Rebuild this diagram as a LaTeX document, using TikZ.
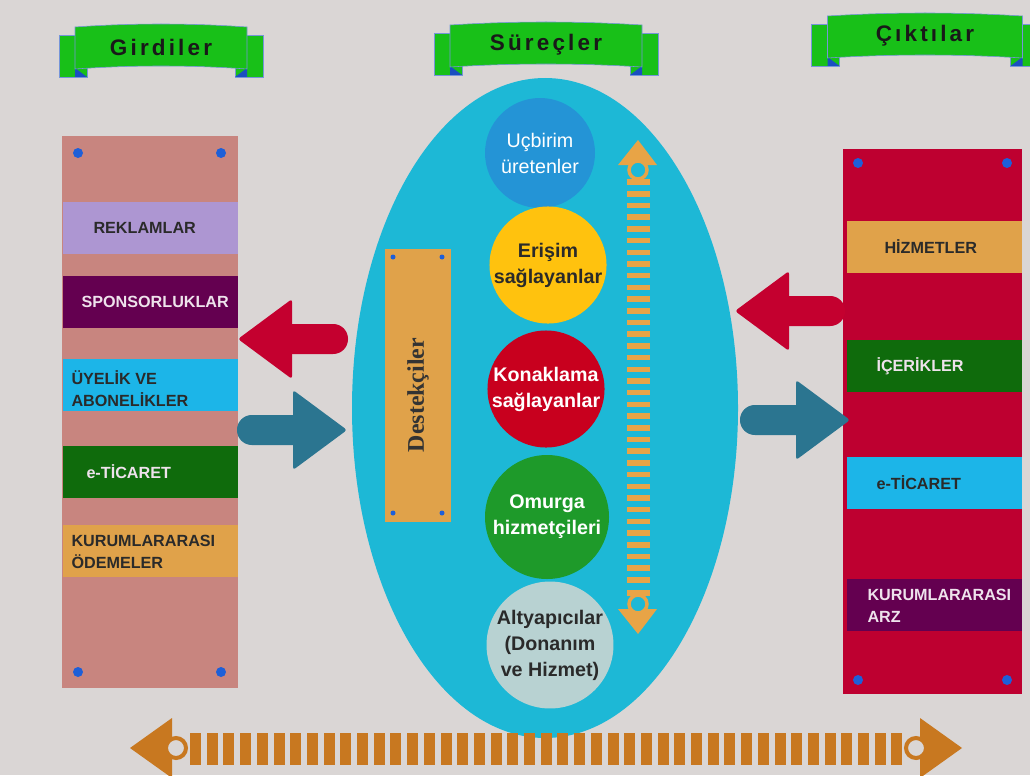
\documentclass[tikz,border=0pt]{standalone}
\usepackage{fontspec}
\setmainfont{Liberation Sans}
\newfontfamily\slabfont{Liberation Serif}
\newfontfamily\bannerfont[LetterSpace=14]{Liberation Sans}
\usetikzlibrary{shapes.geometric}

\definecolor{zemin}{HTML}{DAD6D5}
\definecolor{pembe}{HTML}{C8857F}
\definecolor{kirmizi}{HTML}{BE0030}
\definecolor{lila}{HTML}{AD96D2}
\definecolor{mor}{HTML}{640050}
\definecolor{turkuaz}{HTML}{1CB5E8}
\definecolor{koyuyesil}{HTML}{0F6B0C}
\definecolor{turuncu}{HTML}{E0A24A}
\definecolor{elips}{HTML}{1DB8D6}
\definecolor{bayrak}{HTML}{18C018}
\definecolor{kivrim}{HTML}{1A4FC0}
\definecolor{pim}{HTML}{1E5FD8}
\definecolor{petrol}{HTML}{2B7590}
\definecolor{okkirmizi}{HTML}{C4002F}
\definecolor{seritdikey}{HTML}{E8A446}
\definecolor{seritalt}{HTML}{C87820}
\definecolor{yazikoyu}{HTML}{2A2A2A}
\definecolor{yaziacik}{HTML}{EEE2EC}
\definecolor{mavidaire}{HTML}{2494D6}
\definecolor{sari}{HTML}{FFC20E}
\definecolor{kirmizidaire}{HTML}{C8001E}
\definecolor{yesildaire}{HTML}{1E9A2A}
\definecolor{gridaire}{HTML}{B8D2D2}

\def\pxu{0.025cm}

\tikzset{
  pics/banner/.style 2 args={code={
    % kuyruklar
    \filldraw[bayrak, draw=kivrim!60] (-#1/2-16,-13) rectangle (-#1/2+12,29);
    \filldraw[bayrak, draw=kivrim!60] (#1/2-12,-13) rectangle (#1/2+16,29);
    \fill[kivrim] (-#1/2,20) -- (-#1/2+12,29) -- (-#1/2,29) -- cycle;
    \fill[kivrim] (#1/2,20) -- (#1/2-12,29) -- (#1/2,29) -- cycle;
    % ana serit
    \filldraw[bayrak, draw=kivrim!60] (-#1/2,-21) .. controls (-#1/6,-25) and (#1/6,-25) .. (#1/2,-21)
      -- (#1/2,21) .. controls (#1/6,17) and (-#1/6,17) .. (-#1/2,21) -- cycle;
    \node[font=\bannerfont\bfseries\fontsize{16}{18}\selectfont, text=black!90] (-yazi) at (0,-1) {#2};
  }},
  pics/kalinok/.style={code={
    \fill[rounded corners=0.37cm] (0,-15) rectangle (75,15);
    \fill[rounded corners=2pt] (56,-40) -- (110,0) -- (56,40) -- cycle;
  }}
}

\begin{document}
\begin{tikzpicture}[
x=\pxu, y=-\pxu,
every node/.style = {inner sep=0pt},
kutu/.style = {minimum width=175*\pxu, minimum height=52*\pxu},
kutuyazi/.style = {anchor=west, align=left, font=\bfseries\fontsize{11.5}{15.6}\selectfont},
daire/.style = {circle, align=center, font=\bfseries\fontsize{14}{18.5}\selectfont}
]
\clip (0,0) rectangle (1030,775);
\fill[zemin] (0,0) rectangle (1030,775);

% basliklar
\pic (girdiBayrak) at (161,48) {banner={172}{Girdiler}};
\pic (surecBayrak) at (546,46) {banner={192}{Süreçler}};
\pic (ciktiBayrak) at (925,37) {banner={195}{Çıktılar}};

% girdiler
\node[fill=pembe, minimum width=176*\pxu, minimum height=552*\pxu] (girdi) at (150,412) {};
\node[kutu, fill=lila] (reklamKutu) at (150,228) {};
\node[kutuyazi, text=yazikoyu] (reklam) at ([xshift=31*\pxu]reklamKutu.west) {REKLAMLAR};
\node[kutu, fill=mor] (sponsorKutu) at (150,302) {};
\node[kutuyazi, text=yaziacik] (sponsor) at ([xshift=19*\pxu]sponsorKutu.west) {SPONSORLUKLAR};
\node[kutu, fill=turkuaz] (uyelikKutu) at (150,385) {};
\node[kutuyazi, text=yazikoyu] (uyelik) at ([xshift=9*\pxu, yshift=-4*\pxu]uyelikKutu.west) {ÜYELİK VE\\ABONELİKLER};
\node[kutu, fill=koyuyesil] (ticaretKutu) at (150,472) {};
\node[kutuyazi, text=yaziacik] (ticaret) at ([xshift=24*\pxu]ticaretKutu.west) {e-TİCARET};
\node[kutu, fill=turuncu] (odemeKutu) at (150,551) {};
\node[kutuyazi, text=yazikoyu] (odeme) at ([xshift=9*\pxu, yshift=-1*\pxu]odemeKutu.west) {KURUMLARARASI\\ÖDEMELER};

% ciktilar
\node[fill=kirmizi, minimum width=179*\pxu, minimum height=545*\pxu] (cikti) at (932.5,421) {};
\node[kutu, fill=turuncu] (hizmetKutu) at (934,247) {};
\node[kutuyazi, text=yazikoyu] (hizmet) at ([xshift=38*\pxu]hizmetKutu.west) {HİZMETLER};
\node[kutu, fill=koyuyesil] (icerikKutu) at (934,366) {};
\node[kutuyazi, text=yaziacik] (icerik) at ([xshift=30*\pxu]icerikKutu.west) {İÇERİKLER};
\node[kutu, fill=turkuaz] (eticaretKutu) at (934,483) {};
\node[kutuyazi, text=yazikoyu] (eticaret) at ([xshift=30*\pxu]eticaretKutu.west) {e-TİCARET};
\node[kutu, fill=mor] (arzKutu) at (934,605) {};
\node[kutuyazi, text=yaziacik] (arz) at ([xshift=21*\pxu, yshift=-1*\pxu]arzKutu.west) {KURUMLARARASI\\ARZ};

% pimler
\foreach \p in {(78,153),(221,153),(78,672),(221,672),(858,163),(1007,163),(858,680),(1007,680)}
  \fill[pim] \p circle (5);

% surecler
\node[ellipse, fill=elips, minimum width=386*\pxu, minimum height=660*\pxu] (surec) at (545,408) {};
\node[daire, fill=mavidaire, text=white, minimum size=110*\pxu, font=\fontsize{14}{18.5}\selectfont] (ucbirim) at (540,153) {Uçbirim\\üretenler};
\node[daire, fill=sari, text=yazikoyu, minimum size=110*\pxu] (erisim) at (548,265) {Erişim\\sağlayanlar};
\node[daire, fill=kirmizidaire, text=white, minimum size=114*\pxu] (konak) at (546,389) {Konaklama\\sağlayanlar};
\node[daire, fill=yesildaire, text=white, minimum size=124*\pxu] (omurga) at (547,517) {Omurga\\hizmetçileri};
\node[daire, fill=gridaire, text=yazikoyu, minimum size=124*\pxu] (altyapi) at (550,645) {Altyapıcılar\\(Donanım\\ve Hizmet)};

\node[fill=turuncu, minimum width=66*\pxu, minimum height=273*\pxu] (destek) at (418,385) {};
\node[rotate=90, font=\slabfont\bfseries\fontsize{17}{20}\selectfont, text=black!80] (destekYazi) at ([yshift=-10*\pxu]destek.center) {Destekçiler};
\foreach \p in {(393,257),(442,257),(393,513),(442,513)}
  \fill[pim] \p circle (2.5);

% dikey serit ok
\begin{scope}[color=seritdikey]
\fill (618,165) -- (638,140) -- (657,165) -- cycle;
\draw[line width=3.5*\pxu, fill=elips] (638,170) circle (9);
\fill (627,179) rectangle (650,185);
\foreach \i in {0,...,33}
  \fill (627,191+\i*11.7) rectangle ++(23,5.5);
\fill (627,590) rectangle (650,596);
\fill (618,609) -- (638,634) -- (657,609) -- cycle;
\draw[line width=3.5*\pxu, fill=elips] (638,604) circle (9);
\end{scope}

% kalin oklar
\pic[okkirmizi, rotate=180] at (348,339) {kalinok};
\pic[petrol] at (237,430) {kalinok};
\pic[okkirmizi, rotate=180] at (845,311) {kalinok};
\pic[petrol] at (740,420) {kalinok};

% alt serit ok
\begin{scope}[color=seritalt]
\fill (172,718) -- (130,748) -- (172,778) -- cycle;
\draw[line width=4*\pxu, fill=zemin] (176,748) circle (10);
\foreach \i in {0,...,42}
  \fill (190+\i*16.7,733) rectangle ++(11,32);
\fill (920,718) -- (962,748) -- (920,778) -- cycle;
\draw[line width=4*\pxu, fill=zemin] (916,748) circle (10);
\end{scope}
\end{tikzpicture}
\end{document}
